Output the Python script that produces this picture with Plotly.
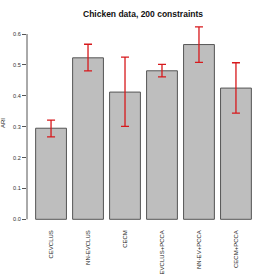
import plotly.graph_objects as go

methods = ["CEVCLUS", "NN-EVCLUS", "CECM", "CEVCLUS+PCCA", "NN-EV+PCCA", "CECM+PCCA"]
ari = [0.295, 0.523, 0.412, 0.481, 0.566, 0.425]
ari_upper = [0.321, 0.567, 0.525, 0.502, 0.623, 0.507]
ari_lower = [0.267, 0.481, 0.301, 0.461, 0.508, 0.344]
y_ticks = [0.0, 0.1, 0.2, 0.3, 0.4, 0.5, 0.6]

err_plus = [u - v for u, v in zip(ari_upper, ari)]
err_minus = [v - l for v, l in zip(ari, ari_lower)]

fig = go.Figure()
fig.add_trace(go.Bar(
    x=list(range(len(methods))), y=ari,
    marker=dict(color="#BEBEBE", line=dict(color="#555555", width=1)),
    error_y=dict(type="data", symmetric=False, array=err_plus, arrayminus=err_minus,
                 color="#D7191C", thickness=1.3, width=4),
    width=0.833,
))

font = "Liberation Sans, Arial, Helvetica, sans-serif"
fig.update_layout(
    width=274, height=274,
    margin=dict(l=27, r=14, t=20, b=48),
    paper_bgcolor="white", plot_bgcolor="white",
    showlegend=False,
    title=dict(text="<b>Chicken data, 200 constraints</b>", x=143 / 274, xanchor="center",
               y=1 - 14 / 274, yanchor="middle",
               font=dict(family=font, size=8.5, color="#111111")),
    xaxis=dict(range=[-0.65, 5.65], tickmode="array", tickvals=list(range(len(methods))),
               ticktext=methods, tickangle=-90, showgrid=False, zeroline=False,
               showline=False, ticks="", automargin=False, ticklabelstandoff=2,
               tickfont=dict(family=font, size=6, color="#222222")),
    yaxis=dict(range=[-0.0217, 0.6455], tickmode="array", tickvals=y_ticks,
               ticktext=[f"{t:.1f}" for t in y_ticks], showgrid=False, zeroline=False,
               showline=False, ticks="outside", ticklen=4, tickcolor="#555555",
               automargin=False,
               tickfont=dict(family=font, size=5.6, color="#333333"),
               title=dict(text="ARI", font=dict(family=font, size=6, color="#222222"), standoff=6)),
    shapes=[dict(type="line", xref="paper", yref="y", x0=0, x1=0, y0=0, y1=0.6,
                 line=dict(color="#555555", width=1))],
)
fig.write_html("out.html", config={"displayModeBar": False},
               post_script="document.body.style.margin='0';document.body.style.overflow='hidden';")
